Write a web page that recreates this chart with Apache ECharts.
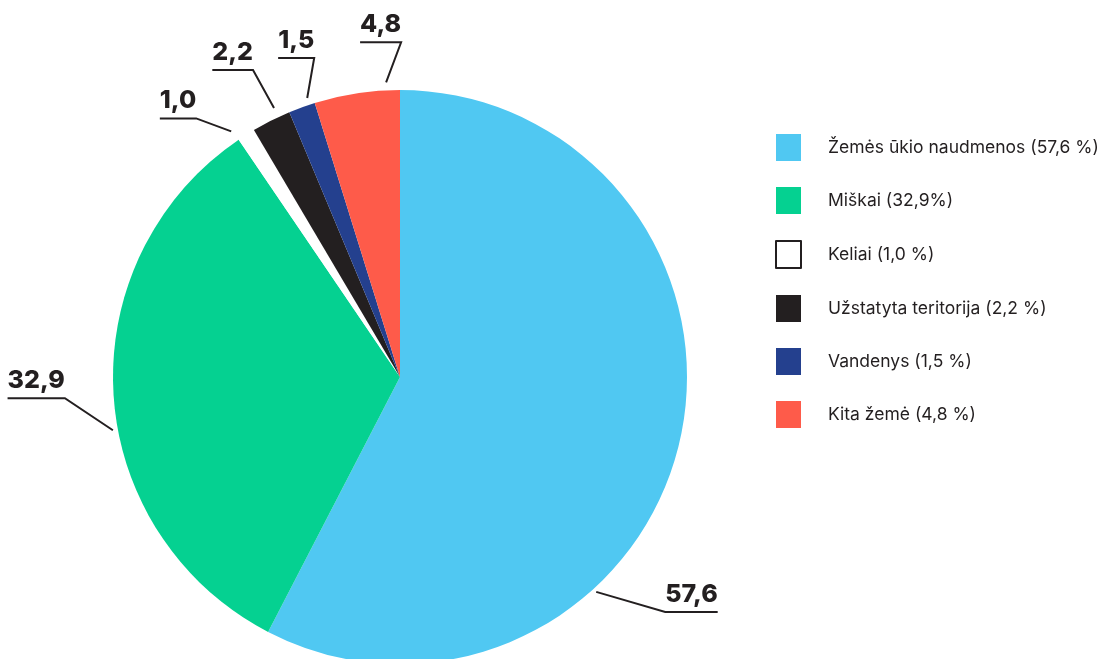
<!DOCTYPE html>
<html>
<head>
<meta charset="utf-8">
<script src="https://cdn.jsdelivr.net/npm/echarts@6/dist/echarts.min.js"></script>
<style>
html,body{margin:0;padding:0;background:#fff;}
#chart{width:1111px;height:659px;}
</style>
</head>
<body>
<div id="chart"></div>
<script>
// ---- data ----
const categories = ['Žemės ūkio naudmenos', 'Miškai', 'Keliai', 'Užstatyta teritorija', 'Vandenys', 'Kita žemė'];
const legendLabels = ['Žemės ūkio naudmenos (57,6 %)', 'Miškai (32,9%)', 'Keliai (1,0 %)', 'Užstatyta teritorija (2,2 %)', 'Vandenys (1,5 %)', 'Kita žemė (4,8 %)'];
const values = [57.6, 32.9, 1.0, 2.2, 1.5, 4.8];

// ---- styles ----
const colors = ['#50C8F2', '#05D191', '#FFFFFF', '#231F20', '#24408E', '#FE5B4A'];
const CX = 400, CY = 377, R = 287;
// label leader layout: anchor angle on rim (deg, clockwise from top), distance, bend offset, direction of underline
const labelLeaders = [
  {angle: 137.6, dist: 291, bend: [69, 20], dir: 1},
  {angle: 259.5, dist: 292, bend: [-48, -32], dir: -1},
  {angle: 325.5, dist: 298, bend: [-35, -13], dir: -1},
  {angle: 334.9, dist: 297, bend: [-21, -38], dir: -1},
  {angle: 341.6, dist: 294, bend: [7, -40], dir: -1},
  {angle: 357.3, dist: 295, bend: [15, -40], dir: -1}
];

const fmt = v => v.toFixed(1).replace('.', ',');

const chart = echarts.init(document.getElementById('chart'), null, {renderer: 'canvas'});
chart.setOption({
  animation: false,
  color: colors,
  legend: {
    orient: 'vertical',
    left: 770,
    top: 129,
    itemWidth: 25,
    itemHeight: 27,
    itemGap: 26,
    icon: 'rect',
    selectedMode: false,
    formatter: name => legendLabels[categories.indexOf(name)],
    textStyle: {fontFamily: 'Inter', fontSize: 17.5, color: '#231F20', padding: [0, 0, 0, 22]},
    data: categories.map((c, i) => i === 2
      ? {name: c, itemStyle: {color: '#FFFFFF', borderColor: '#231F20', borderWidth: 2}}
      : {name: c})
  },
  series: [{
    type: 'pie',
    center: [CX, CY],
    radius: R,
    startAngle: 90,
    clockwise: true,
    avoidLabelOverlap: false,
    emphasis: {disabled: true},
    itemStyle: {borderWidth: 0},
    label: {
      show: true,
      position: 'outside',
      formatter: p => fmt(p.value),
      fontFamily: 'Inter',
      fontWeight: 800,
      fontSize: 25,
      color: '#231F20'
    },
    labelLine: {show: true, length: 20, length2: 20, lineStyle: {color: '#231F20', width: 2}},
    labelLayout: function (params) {
      const L = labelLeaders[params.dataIndex];
      const a = L.angle * Math.PI / 180;
      const p0 = [CX + L.dist * Math.sin(a), CY - L.dist * Math.cos(a)];
      const p1 = [p0[0] + L.bend[0], p0[1] + L.bend[1]];
      const w = params.labelRect.width;
      const p2 = [p1[0] + L.dir * w, p1[1]];
      return {
        x: (p1[0] + p2[0]) / 2,
        y: p1[1] - 5,
        align: 'center',
        verticalAlign: 'bottom',
        labelLinePoints: [p0, p1, p2]
      };
    },
    data: categories.map((c, i) => ({name: c, value: values[i]}))
  }]
});
</script>
</body>
</html>
